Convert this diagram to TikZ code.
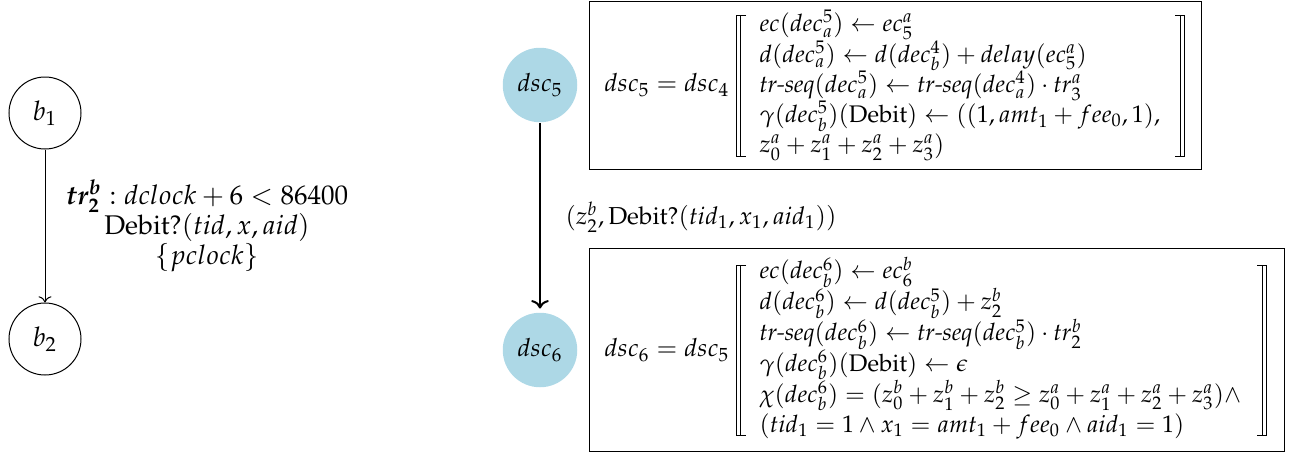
\documentclass[tikz,border=0pt]{standalone}
\usepackage[T1]{fontenc}
\usepackage{mathpazo}
\usepackage{amsmath}
\usetikzlibrary{arrows.meta}
\definecolor{lblue}{RGB}{173,216,230}
\begin{document}
\begin{tikzpicture}[x=0.4pt,y=-0.4pt,
  state/.style={circle,draw,minimum size=28.8pt,inner sep=0pt,font=\fontsize{10.8}{13}\selectfont},
  dscnode/.style={circle,fill=lblue,minimum size=29.8pt,inner sep=0pt},
  eqbox/.style={draw,rectangle,inner sep=0pt},
  txt/.style={inner sep=0pt},
  arr/.style={txt,anchor=west,font=\fontsize{9.6}{12}\selectfont},
  brk/.style={line width=0.4pt}]
\useasboundingbox (0,0) rectangle (1291,454);
% left automaton
\node[state] (b1) at (45,113) {$b_1$};
\node[state] (b2) at (45,339) {$b_2$};
\draw[->] (b1) -- (b2);
\node[txt,align=center,font=\fontsize{10.8}{12}\selectfont] (g1) at (207,226) {$\boldsymbol{tr^b_2} : dclock + 6 < 86400$\\ Debit?$(tid, x, aid)$\\ $\{pclock\}$};
% right
\node[dscnode] (d5) at (540,85) {$dsc_5$};
\node[dscnode] (d6) at (540,350) {$dsc_6$};
\draw[->,thick,shorten >=1.5pt] (d5) -- (d6);
\node[txt,anchor=west,font=\fontsize{9.8}{12}\selectfont] (lab) at (565,217) {$(z^b_2, \text{Debit?}(tid_1, x_1, aid_1))$};
% box 5
\node[eqbox,minimum width=244.7pt,minimum height=67.2pt] (box5) at (895.2,85) {};
\node[txt,anchor=west] (e5) at (604,85) {$dsc_5 = dsc_4$};
\node[arr] (a5) at (759,86) {$\begin{array}{@{}l@{}}
 ec(dec^5_a) \leftarrow ec^a_5\\
 d(dec^5_a) \leftarrow d(dec^4_b) + delay(ec^a_5)\\
 \textit{tr-seq}(dec^5_a) \leftarrow \textit{tr-seq}(dec^4_a)\cdot tr^a_3\\
 \gamma(dec^5_b)(\text{Debit}) \leftarrow ((1, amt_1 + fee_0, 1),\\
 z^a_0+z^a_1+z^a_2+z^a_3)
 \end{array}$};
\draw[brk] (746,15) -- (736.5,15) -- (736.5,156) -- (746,156);
\draw[brk] (740.5,15) -- (740.5,156);
\draw[brk] (1175,15) -- (1184.5,15) -- (1184.5,156) -- (1175,156);
\draw[brk] (1180.5,15) -- (1180.5,156);
% box 6
\node[eqbox,minimum width=277.9pt,minimum height=81.1pt] (box6) at (936.7,349.7) {};
\node[txt,anchor=west] (e6) at (604,350) {$dsc_6 = dsc_5$};
\node[arr] (a6) at (759,349) {$\begin{array}{@{}l@{}}
 ec(dec^6_b) \leftarrow ec^b_6\\
 d(dec^6_b) \leftarrow d(dec^5_b) + z^b_2\\
 \textit{tr-seq}(dec^6_b) \leftarrow \textit{tr-seq}(dec^5_b)\cdot tr^b_2\\
 \gamma(dec^6_b)(\text{Debit}) \leftarrow \epsilon\\
 \chi(dec^6_b) = (z^b_0+z^b_1+z^b_2 \geq z^a_0+z^a_1+z^a_2+z^a_3)\wedge\\
 (tid_1 = 1 \wedge x_1 = amt_1 + fee_0 \wedge aid_1 = 1)
 \end{array}$};
\draw[brk] (746,265) -- (736.5,265) -- (736.5,435) -- (746,435);
\draw[brk] (740.5,265) -- (740.5,435);
\draw[brk] (1257,265) -- (1266.5,265) -- (1266.5,435) -- (1257,435);
\draw[brk] (1262.5,265) -- (1262.5,435);
\end{tikzpicture}
\end{document}
